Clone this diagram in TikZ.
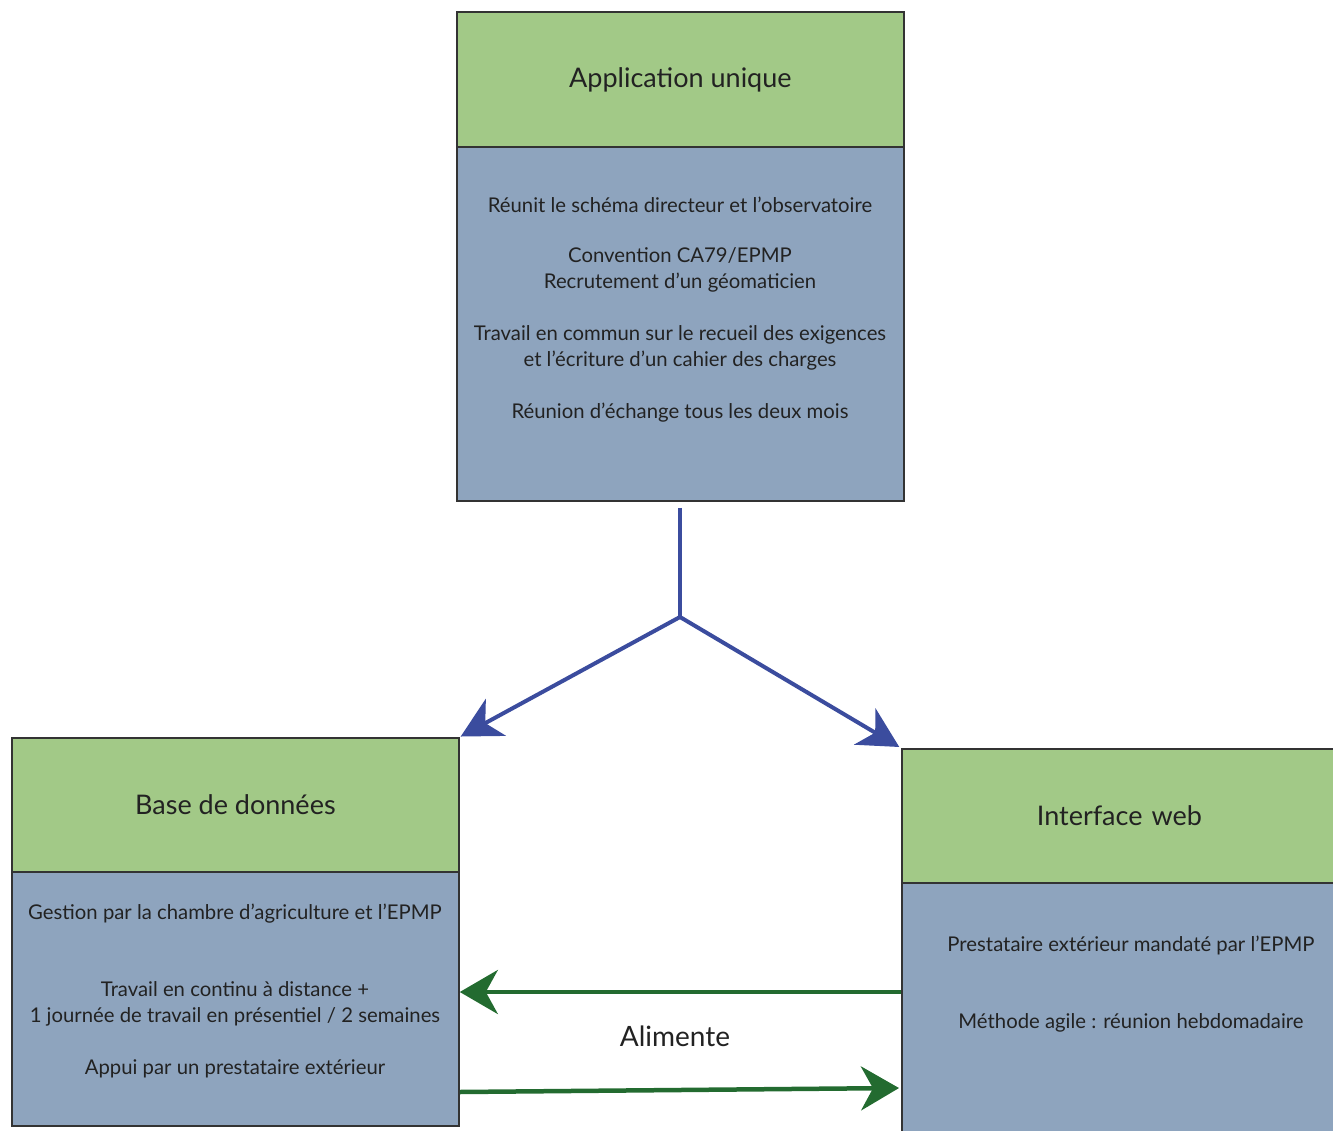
\documentclass[tikz,border=0pt]{standalone}
\usepackage{fontspec}
\setmainfont{Lato}
\usetikzlibrary{arrows.meta}
\definecolor{hdr}{HTML}{A2C987}
\definecolor{bdy}{HTML}{8EA4BE}
\definecolor{blu}{HTML}{3B4C9E}
\definecolor{grn}{HTML}{236B30}
\definecolor{txtc}{HTML}{222222}
\begin{document}
\begin{tikzpicture}[x=1pt,y=-1pt,
  hdrbox/.style={draw=black!80, line width=1.8pt, fill=hdr, anchor=north west, inner sep=0pt,
    font=\fontsize{27}{30}\selectfont, text=txtc},
  bdybox/.style={draw=black!80, line width=1.8pt, fill=bdy, anchor=north west, inner sep=0pt},
  txt/.style={font=\fontsize{20.3}{26}\selectfont, align=center, text=txtc},
  bluearrow/.style={draw=blu, line width=4pt, -{Stealth[length=40pt,width=42pt,inset=12pt]}},
  greenarrow/.style={draw=grn, line width=4.5pt, -{Stealth[length=38pt,width=44pt,inset=12pt]}}
]
\useasboundingbox (0,0) rectangle (1333,1131);

% top box
\node[bdybox, minimum width=447pt, minimum height=354pt] (tb) at (456,146) {};
\node[hdrbox, minimum width=447pt, minimum height=135pt] (th) at (456,11) {Application unique};
\node[txt] (t1) at (680,205) {Réunit le schéma directeur et l’observatoire};
\node[txt] (t2) at (680,270) {Convention CA79/EPMP\\Recrutement d’un géomaticien};
\node[txt] (t3) at (680,348) {Travail en commun sur le recueil des exigences\\et l’écriture d’un cahier des charges};
\node[txt] (t4) at (680,413) {Réunion d’échange tous les deux mois};

% left box
\node[bdybox, minimum width=447pt, minimum height=254pt] (lb) at (11,871) {};
\node[hdrbox, minimum width=447pt, minimum height=134pt] (lh) at (11,737) {Base de données};
\node[txt] (l1) at (235,914) {Gestion par la chambre d’agriculture et l’EPMP};
\node[txt] (l2) at (235,1004) {Travail en continu à distance +\\1 journée de travail en présentiel / 2 semaines};
\node[txt] (l3) at (235,1069) {Appui par un prestataire extérieur};

% right box
\node[bdybox, minimum width=445pt, minimum height=262pt] (rb) at (901,882) {};
\node[hdrbox, minimum width=445pt, minimum height=134pt, text width=430pt, align=center, anchor=north west] (rh) at (901,748) {\hspace*{-10pt}Interface web};
\node[txt] (r1) at (1131,945) {Prestataire extérieur mandaté par l’EPMP};
\node[txt] (r2) at (1131,1023) {Méthode agile : réunion hebdomadaire};

% fork arrows
\coordinate (fork) at (680,617);
\draw[draw=blu, line width=4pt, shorten <=6pt] (tb.south -| fork) -- (fork);
\draw[bluearrow, shorten >=1pt] (fork) -- (lh.north east);
\draw[bluearrow, shorten >=2pt] (fork) -- (rh.north west);

% green arrows
\path (rb.north west) ++(0,110) coordinate (ga1);
\path (lb.north east) ++(0,221) coordinate (gb1);
\path (rb.north west) ++(0,206) coordinate (gb2);
\draw[greenarrow] (ga1) -- (ga1 -| lb.east);
\draw[greenarrow, shorten >=2pt] (gb1) -- (gb2);
\node[font=\fontsize{28}{30}\selectfont, text=txtc] (al) at (675,1036) {Alimente};
\end{tikzpicture}
\end{document}
